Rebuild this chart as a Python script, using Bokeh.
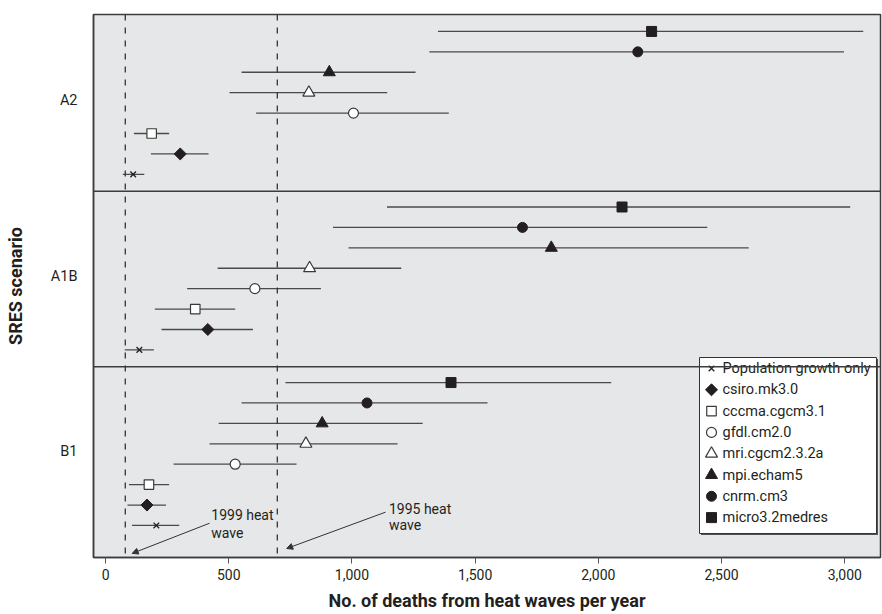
import math
from bokeh.plotting import figure
from bokeh.models import (Range1d, Span, Label, Arrow, NormalHead, FixedTicker,
                          NumeralTickFormatter, ColumnDataSource)
from bokeh.embed import file_html
from bokeh.resources import INLINE

# ---------------- data ----------------
scenarios = ["B1", "A1B", "A2"]  # bottom to top
models = ["Population growth only", "csiro.mk3.0", "cccma.cgcm3.1", "gfdl.cm2.0",
          "mri.cgcm2.3.2a", "mpi.echam5", "cnrm.cm3", "micro3.2medres"]

b1_mid = [206, 168, 176, 526, 813, 879, 1061, 1402]
b1_low = [107, 89, 95, 276, 422, 459, 552, 730]
b1_high = [299, 245, 258, 775, 1185, 1287, 1550, 2052]

a1b_mid = [137, 415, 364, 606, 828, 1809, 1692, 2096]
a1b_low = [78, 227, 200, 331, 455, 986, 923, 1142]
a1b_high = [196, 598, 526, 874, 1200, 2610, 2442, 3022]

a2_mid = [112, 303, 187, 1006, 825, 908, 2160, 2216]
a2_low = [70, 184, 115, 611, 503, 552, 1314, 1349]
a2_high = [157, 418, 258, 1393, 1143, 1258, 2997, 3075]

heat_wave_years = ["1999", "1995"]
heat_wave_deaths = [80, 697]

x_ticks = [0, 500, 1000, 1500, 2000, 2500, 3000]

mids = [b1_mid, a1b_mid, a2_mid]
lows = [b1_low, a1b_low, a2_low]
highs = [b1_high, a1b_high, a2_high]

# ---------------- styles ----------------
FONT = "Roboto"
INK = "#231f20"
marker_styles = [
    dict(marker="x", size=8, fill_color=INK, line_color=INK, angle=0.0, line_width=1.3),
    dict(marker="square", size=8.5, fill_color=INK, line_color=INK, angle=math.pi / 4, line_width=1),
    dict(marker="square", size=9.5, fill_color="white", line_color="#3a3a3a", angle=0.0, line_width=1.2),
    dict(marker="circle", size=10, fill_color="white", line_color="#3a3a3a", angle=0.0, line_width=1.2),
    dict(marker="triangle", size=12, fill_color="white", line_color="#3a3a3a", angle=0.0, line_width=1.2),
    dict(marker="triangle", size=12, fill_color=INK, line_color=INK, angle=0.0, line_width=1),
    dict(marker="circle", size=10, fill_color=INK, line_color=INK, angle=0.0, line_width=1),
    dict(marker="square", size=10, fill_color=INK, line_color=INK, angle=0.0, line_width=1),
]

W, H = 882, 614
BL, BR, BT, BB = 93, 2, 14, 57
FW, FH = W - BL - BR, H - BT - BB

ROW0 = 1.57
PANEL_STEP = 8.6
PAD = 0.83


def row_y(panel, i):
    return ROW0 + panel * PANEL_STEP + i


p = figure(width=W, height=H, output_backend="svg", toolbar_location=None,
           x_range=Range1d(-49, 3145), y_range=Range1d(0, 26.6),
           min_border_left=BL, min_border_right=BR, min_border_top=BT, min_border_bottom=BB)
p.border_fill_color = "white"
p.background_fill_color = "#e6e7e8"
p.outline_line_color = "#3c3c3c"
p.outline_line_width = 1.5
p.xgrid.visible = False
p.ygrid.visible = False

# pixel-unit ranges for the legend box
p.extra_x_ranges = {"px": Range1d(0, FW)}
p.extra_y_ranges = {"py": Range1d(0, FH)}

# panel dividers
for k in (1, 2):
    p.add_layout(Span(location=row_y(k, 0) - PAD, dimension="width",
                      line_color="#3c3c3c", line_width=1.5))

# heat wave reference lines
for d in heat_wave_deaths:
    p.add_layout(Span(location=d, dimension="height", line_color="#333333",
                      line_width=1.3, line_dash="6 7"))

# error bars
seg_x0, seg_x1, seg_y = [], [], []
for k in range(3):
    for i in range(len(models)):
        seg_x0.append(lows[k][i])
        seg_x1.append(highs[k][i])
        seg_y.append(row_y(k, i))
p.segment(x0=seg_x0, x1=seg_x1, y0=seg_y, y1=seg_y, line_color="#4a4a4a", line_width=1.3)

# markers
for i, name in enumerate(models):
    st = marker_styles[i]
    src = ColumnDataSource(dict(x=[mids[k][i] for k in range(3)],
                                y=[row_y(k, i) for k in range(3)]))
    p.scatter("x", "y", source=src, marker=st["marker"], size=st["size"],
              fill_color=st["fill_color"], line_color=st["line_color"],
              angle=st["angle"], line_width=st["line_width"])

# annotations
ann = [
    (429, 2.06, 1.22, 422, 1.68, 28, 0.2),
    (1150, 2.40, 1.57, 1136, 2.22, 38, 0.44),
]
for (yr, d), (tx, ty1, ty2, ax, ay, dx, ey) in zip(zip(heat_wave_years, heat_wave_deaths), ann):
    for txt, ty in ((yr + " heat", ty1), ("wave", ty2)):
        p.add_layout(Label(x=tx, y=ty, text=txt, text_font=FONT, text_font_size="14px",
                           text_color=INK, text_baseline="middle", text_align="left"))
    p.add_layout(Arrow(x_start=ax, y_start=ay, x_end=d + dx, y_end=ey,
                       line_color="#333333", line_width=1,
                       end=NormalHead(size=6, fill_color="#333333", line_color="#333333")))

# legend (drawn in pixel units inside the frame)
LG_L, LG_R, LG_B, LG_T = 606, 783, 24, 200
ROW_H = 21.3
p.quad(left=[LG_L + 1.5], right=[LG_R + 1.5], bottom=[LG_B - 1.5], top=[LG_T - 1.5],
       fill_color="#555555", line_color=None, x_range_name="px", y_range_name="py")
p.quad(left=[LG_L], right=[LG_R], bottom=[LG_B], top=[LG_T],
       fill_color="white", line_color="#333333", line_width=1,
       x_range_name="px", y_range_name="py")
lg_y = [LG_T - 11 - ROW_H * i for i in range(len(models))]
for i, name in enumerate(models):
    st = marker_styles[i]
    p.scatter([LG_L + 12], [lg_y[i]], marker=st["marker"], size=st["size"],
              fill_color=st["fill_color"], line_color=st["line_color"],
              angle=st["angle"], line_width=st["line_width"],
              x_range_name="px", y_range_name="py")
p.text(x=[LG_L + 23] * len(models), y=lg_y, text=models, text_font={"value": FONT},
       text_font_size="14.5px", text_color=INK, text_baseline="middle", text_align="left",
       x_range_name="px", y_range_name="py")

# x axis
p.xaxis.ticker = FixedTicker(ticks=x_ticks)
p.xaxis.formatter = NumeralTickFormatter(format="0,0")
p.xaxis.minor_tick_line_color = None
p.xaxis.major_tick_out = 6
p.xaxis.major_tick_in = 0
p.xaxis.major_tick_line_color = "#555555"
p.xaxis.axis_line_color = "#3c3c3c"
p.xaxis.axis_line_width = 1.5
p.xaxis.major_label_text_font = FONT
p.xaxis.major_label_text_font_size = "14px"
p.xaxis.major_label_text_color = INK
p.xaxis.major_label_standoff = 5
p.xaxis.axis_label = "No. of deaths from heat waves per year"
p.xaxis.axis_label_text_font = FONT
p.xaxis.axis_label_text_font_size = "18px"
p.xaxis.axis_label_text_font_style = "bold"
p.xaxis.axis_label_text_color = INK
p.xaxis.axis_label_standoff = 7

# y axis
centers = [row_y(k, 3.6) for k in range(3)]
p.yaxis.ticker = FixedTicker(ticks=centers)
p.yaxis.major_label_overrides = {c: s for c, s in zip(centers, scenarios)}
p.yaxis.minor_tick_line_color = None
p.yaxis.major_tick_line_color = None
p.yaxis.axis_line_color = "#3c3c3c"
p.yaxis.axis_line_width = 1.5
p.yaxis.major_label_text_font = FONT
p.yaxis.major_label_text_font_size = "14.5px"
p.yaxis.major_label_text_color = INK
p.yaxis.major_label_standoff = 10
p.yaxis.axis_label = "SRES scenario"
p.yaxis.axis_label_text_font = FONT
p.yaxis.axis_label_text_font_size = "18px"
p.yaxis.axis_label_text_font_style = "bold"
p.yaxis.axis_label_text_color = INK
p.yaxis.axis_label_standoff = 22

open("out.html", "w").write(file_html(p, INLINE))
